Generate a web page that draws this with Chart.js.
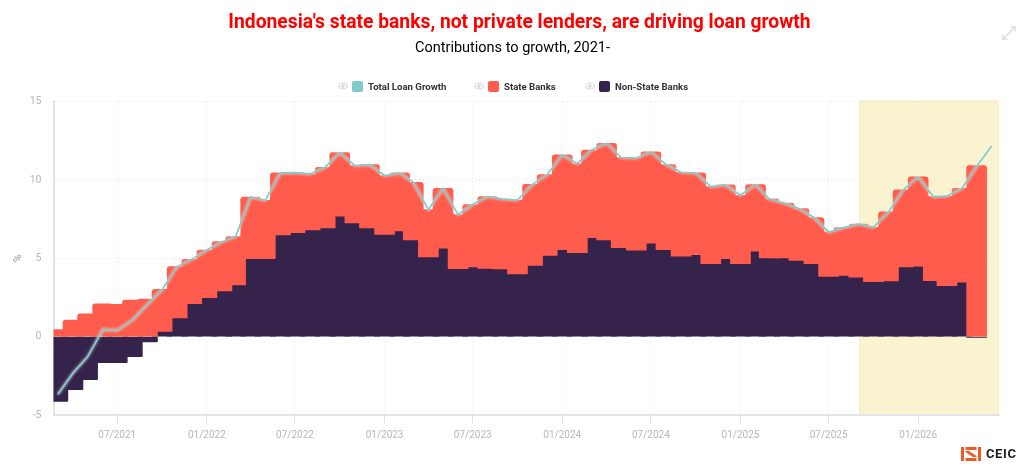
<!DOCTYPE html>
<html>
<head>
<meta charset="utf-8">
<title>Indonesia loan growth</title>
<script src="https://cdn.jsdelivr.net/npm/chart.js@4"></script>
<style>
    body { margin: 0; background: #fff; font-family: Roboto, sans-serif; }
    #wrap { position: relative; width: 1024px; height: 469px; overflow: hidden; }
    #logo { position: absolute; left: 961px; top: 446px; display: flex; align-items: center; }
    #logo span { font-size: 13px; font-weight: 700; letter-spacing: 0.6px; color: #1b1b1f; margin-left: 5px; }
    #expand { position: absolute; left: 1001px; top: 25px; }
    .item { position: absolute; top: 80px; height: 12px; display: flex; align-items: center; font-size: 9.6px; font-weight: 700; color: #333; white-space: nowrap; }
    .item svg { margin-right: 4px; }
    .item i { display: block; width: 11px; height: 11px; border-radius: 2px; margin-right: 5px; }
</style>
</head>
<body>
<div id="wrap">
    <canvas id="graph" width="1024" height="469"></canvas>
    <div id="legend"></div>
    <svg id="expand" width="16" height="16" viewBox="0 0 16 16" fill="none" stroke="#dcdce2" stroke-width="1.4">
        <path d="M2 14 L14 2"/><path d="M9.5 2 H14 V6.5"/><path d="M2 9.5 V14 H6.5"/>
    </svg>
    <div id="logo">
        <svg width="20" height="14" viewBox="0 0 20 14">
            <rect x="0" y="0" width="3" height="14" fill="#f15a22"/>
            <rect x="17" y="0" width="3" height="14" fill="#f15a22"/>
            <rect x="4.5" y="0" width="11" height="3" fill="#f15a22"/>
            <rect x="4.5" y="11" width="11" height="3" fill="#f15a22"/>
            <path d="M4.5 4 H8 L15.5 9 V10 H12 L4.5 5 Z" fill="#f15a22"/>
        </svg>
        <span>CEIC</span>
    </div>
</div>
<script>
const months = [
    '03/2021','04/2021','05/2021','06/2021','07/2021','08/2021','09/2021','10/2021','11/2021','12/2021',
    '01/2022','02/2022','03/2022','04/2022','05/2022','06/2022','07/2022','08/2022','09/2022','10/2022','11/2022','12/2022',
    '01/2023','02/2023','03/2023','04/2023','05/2023','06/2023','07/2023','08/2023','09/2023','10/2023','11/2023','12/2023',
    '01/2024','02/2024','03/2024','04/2024','05/2024','06/2024','07/2024','08/2024','09/2024','10/2024','11/2024','12/2024',
    '01/2025','02/2025','03/2025','04/2025','05/2025','06/2025','07/2025','08/2025','09/2025','10/2025','11/2025','12/2025',
    '01/2026','02/2026','03/2026','04/2026','05/2026','06/2026'
];
const totalGrowth = [
    -3.68,-2.33,-1.29,0.44,0.40,1.05,2.06,3.00,4.47,4.93,
    5.53,6.06,6.38,8.91,8.70,10.45,10.47,10.38,10.81,11.74,10.91,10.98,
    10.28,10.45,9.85,8.11,9.47,7.79,8.43,8.94,8.77,8.72,9.72,10.34,
    11.60,11.04,11.91,12.34,11.43,11.40,11.79,10.98,10.49,10.45,9.57,9.68,
    9.02,9.70,8.79,8.53,8.17,7.60,6.68,6.96,7.19,6.98,7.96,9.36,
    10.19,8.94,8.96,9.47,10.86,12.17
];
const stateBanks = [
    0.45,1.05,1.45,2.10,2.06,2.33,2.40,2.68,3.28,2.83,
    3.04,3.15,3.08,3.93,3.72,3.96,3.83,3.57,3.87,4.06,3.65,4.04,
    3.75,3.71,3.68,3.02,3.83,3.45,3.98,4.58,4.45,4.72,5.17,5.15,
    6.05,5.68,5.59,6.17,5.75,5.89,5.83,5.43,5.36,5.22,4.91,4.70,
    4.36,4.25,3.77,3.51,3.30,2.94,2.83,3.05,3.40,3.47,4.41,4.91,
    5.70,5.37,5.70,6.00,10.91,null
];
const nonStateBanks = [
    -4.13,-3.38,-2.74,-1.66,-1.66,-1.28,-0.34,0.34,1.19,2.10,
    2.49,2.91,3.30,4.98,4.98,6.49,6.64,6.81,6.94,7.68,7.26,6.94,
    6.53,6.74,6.17,5.09,5.64,4.34,4.45,4.36,4.32,4.00,4.55,5.19,
    5.55,5.36,6.32,6.17,5.68,5.51,5.96,5.55,5.13,5.23,4.66,4.98,
    4.66,5.45,5.02,5.02,4.87,4.66,3.85,3.91,3.79,3.51,3.55,4.45,
    4.49,3.57,3.26,3.47,-0.05,null
];
const xTickLabels = ['07/2021','01/2022','07/2022','01/2023','07/2023','01/2024','07/2024','01/2025','07/2025','01/2026'];
const yTicks = [-5, 0, 5, 10, 15];
const seriesNames = ['Total Loan Growth', 'State Banks', 'Non-State Banks'];
const seriesColors = ['#7fcbc8', '#ff5c4d', '#35234b'];
const legendLeft = [338, 474, 585];

// MM/YYYY -> timestamp, x axis is a plain linear one running on real dates
function monthToTime(m) {
    let parts = m.split('/');
    return Date.UTC(parseInt(parts[1]), parseInt(parts[0]) - 1, 1);
}

const xMin = Date.UTC(2021, 1, 20);
const xMax = Date.UTC(2026, 5, 16);
const bandStart = Date.UTC(2025, 8, 2);
const bandEnd = xMax;

const times = months.map(monthToTime);
const linePoints = times.map((t, i) => ({ x: t, y: totalGrowth[i] }));
// state bars sit on top of the positive non-state part
const statePoints = [];
const nonStatePoints = [];
times.forEach((t, i) => {
    if (stateBanks[i] === null) return;
    let base = Math.max(nonStateBanks[i], 0);
    statePoints.push({ x: t, y: [base, base + stateBanks[i]] });
    nonStatePoints.push({ x: t, y: nonStateBanks[i] });
});

// legend with the eye icons
const legendDiv = document.getElementById('legend');
seriesNames.forEach((name, i) => {
    let item = document.createElement('div');
    item.className = 'item';
    item.style.left = legendLeft[i] + 'px';
    item.innerHTML = '<svg width="10" height="8" viewBox="0 0 10 8" fill="none" stroke="#d6d6df" stroke-width="1.1">' +
        '<ellipse cx="5" cy="4" rx="4.4" ry="3"/><circle cx="5" cy="4" r="1.3" fill="#d6d6df"/></svg>' +
        '<i style="background:' + seriesColors[i] + '"></i>' + name;
    legendDiv.appendChild(item);
});

const bandPlugin = {
    id: 'band',
    beforeDraw(chart) {
        const c = chart.ctx, sx = chart.scales.x, sy = chart.scales.y;
        let x1 = sx.getPixelForValue(bandStart), x2 = sx.getPixelForValue(bandEnd);
        let y1 = sy.getPixelForValue(15) - 1, y2 = sy.getPixelForValue(-5);
        c.save();
        c.fillStyle = '#f9f3cf';
        c.fillRect(x1, y1, x2 - x1, y2 - y1);
        c.strokeStyle = '#f6efc3';
        c.strokeRect(x1 + 0.5, y1 + 0.5, x2 - x1 - 1, y2 - y1 - 1);
        c.restore();
    }
};

const haloPlugin = {
    id: 'halo',
    beforeDatasetDraw(chart, args) {
        if (args.index != 0) return;
        chart.ctx.save();
        chart.ctx.shadowColor = 'rgba(255,255,255,0.9)';
        chart.ctx.shadowBlur = 3;
    },
    afterDatasetDraw(chart, args) {
        if (args.index != 0) return;
        chart.ctx.restore();
    }
};

// the title is not centred on the plot, move the two title boxes sideways
const titleShiftPlugin = {
    id: 'titleShift',
    afterLayout(chart) {
        chart.boxes.forEach(box => {
            if (!box.options || !box.options.text) return;
            let shift = box.options.font.size > 16 ? 14 : 7;
            box.left += shift;
            box.right += shift;
        });
    }
};

const ctx = document.getElementById('graph').getContext('2d');
new Chart(ctx, {
    type: 'bar',
    data: {
        datasets: [
            {
                type: 'line',
                label: seriesNames[0],
                data: linePoints,
                borderColor: seriesColors[0],
                backgroundColor: seriesColors[0],
                borderWidth: 1.7,
                pointRadius: 0,
                tension: 0,
                order: 0
            },
            {
                label: seriesNames[1],
                data: statePoints,
                backgroundColor: seriesColors[1],
                barThickness: 20,
                grouped: false,
                borderSkipped: 'start',
                borderRadius: 3,
                order: 1
            },
            {
                label: seriesNames[2],
                data: nonStatePoints,
                backgroundColor: seriesColors[2],
                barThickness: 20,
                grouped: false,
                borderRadius: 1,
                order: 2
            }
        ]
    },
    options: {
        responsive: false,
        animation: false,
        layout: { padding: { left: 12, right: 25, top: 0, bottom: 22 } },
        plugins: {
            title: {
                display: true,
                text: "Indonesia's state banks, not private lenders, are driving loan growth",
                color: '#ff0000',
                font: { family: 'Roboto', size: 19.3, weight: '700' },
                padding: { top: 12, bottom: 5 }
            },
            subtitle: {
                display: true,
                text: 'Contributions to growth, 2021-',
                color: '#000000',
                font: { family: 'Roboto', size: 14.5, weight: '400' },
                padding: { top: 0, bottom: 44 }
            },
            legend: { display: false },
            tooltip: { enabled: false }
        },
        scales: {
            x: {
                type: 'linear',
                offset: false,
                min: xMin,
                max: xMax,
                afterBuildTicks: axis => {
                    axis.ticks = xTickLabels.map(l => ({ value: monthToTime(l) }));
                },
                ticks: {
                    autoSkip: false,
                    maxRotation: 0,
                    padding: 6,
                    color: '#b7b5c8',
                    font: { family: 'Roboto', size: 10 },
                    callback: value => xTickLabels.find(l => monthToTime(l) == value)
                },
                grid: {
                    offset: false,
                    color: '#e3e3e3',
                    tickColor: '#dedee6',
                    tickLength: 8,
                    tickBorderDash: [],
                    tickWidth: 1
                },
                border: { color: '#e3e3ea', width: 2, dash: [1, 3] }
            },
            y: {
                min: -5,
                max: 15,
                afterBuildTicks: axis => {
                    axis.ticks = yTicks.map(v => ({ value: v }));
                },
                afterFit: axis => { axis.width = 41.5; },
                title: {
                    display: true,
                    text: '%',
                    color: '#9a98ad',
                    font: { family: 'Roboto', size: 11 },
                    padding: 0
                },
                ticks: {
                    padding: 12,
                    color: '#b7b5c8',
                    font: { family: 'Roboto', size: 10.5 }
                },
                grid: {
                    color: '#e3e3e3',
                    drawTicks: false
                },
                border: { color: '#e3e3ea', width: 2, dash: [1, 3] }
            }
        }
    },
    plugins: [bandPlugin, haloPlugin, titleShiftPlugin]
});
</script>
</body>
</html>
